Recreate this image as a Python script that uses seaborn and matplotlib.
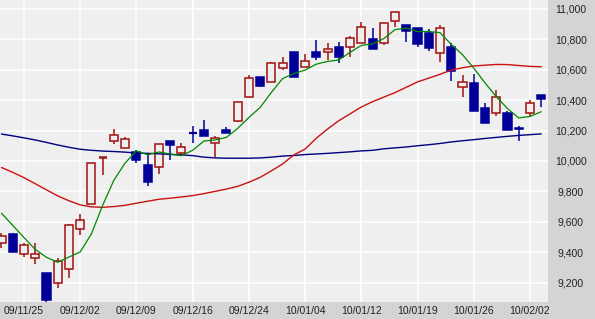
import matplotlib
matplotlib.use("Agg")
import matplotlib.pyplot as plt
import seaborn as sns
import numpy as np
import pandas as pd

# ---- data (Nikkei-style daily candles) ----
opens = [9462, 9520, 9386, 9360, 9261, 9195, 9289, 9555, 9715, 10022,
         10134, 10084, 10061, 9974, 9963, 10132, 10055, 10183, 10204, 10116,
         10204, 10263, 10419, 10551, 10522, 10614, 10715, 10616, 10719, 10715,
         10748, 10752, 10774, 10801, 10778, 10923, 10895, 10873, 10840, 10709,
         10748, 10485, 10511, 10347, 10314, 10314, 10219, 10314, 10434]
highs = [9525, 9525, 9462, 9459, 9261, 9360, 9584, 9651, 9989, 10024,
         10209, 10156, 10072, 10051, 10110, 10132, 10116, 10230, 10270, 10164,
         10222, 10386, 10566, 10551, 10653, 10686, 10715, 10704, 10796, 10774,
         10781, 10822, 10912, 10873, 10910, 10982, 10895, 10873, 10866, 10895,
         10774, 10566, 10572, 10380, 10467, 10331, 10230, 10401, 10434]
lows = [9426, 9399, 9370, 9322, 9074, 9166, 9232, 9513, 9715, 9908,
        10110, 10084, 9989, 9838, 9914, 10007, 10039, 10120, 10166, 10028,
        10186, 10255, 10419, 10489, 10522, 10599, 10551, 10616, 10664, 10664,
        10643, 10682, 10774, 10737, 10760, 10884, 10785, 10752, 10726, 10653,
        10528, 10419, 10331, 10252, 10298, 10204, 10134, 10296, 10357]
closes = [9507, 9403, 9447, 9386, 9086, 9342, 9577, 9612, 9989, 10024,
          10169, 10143, 10007, 9864, 10110, 10105, 10090, 10181, 10166, 10149,
          10186, 10386, 10544, 10495, 10643, 10643, 10551, 10660, 10686, 10735,
          10686, 10807, 10884, 10737, 10910, 10982, 10857, 10768, 10741, 10873,
          10594, 10518, 10331, 10252, 10419, 10204, 10209, 10380, 10408]

ma_short = [9656, 9576, 9496, 9418, 9366, 9333, 9368, 9401, 9521, 9709,
            9874, 9987, 10066, 10041, 10059, 10046, 10035, 10070, 10131, 10138,
            10155, 10214, 10286, 10352, 10451, 10542, 10575, 10598, 10637, 10655,
            10664, 10715, 10760, 10770, 10805, 10864, 10874, 10851, 10852, 10844,
            10767, 10699, 10611, 10514, 10423, 10345, 10283, 10293, 10324]
ma_mid = [9957, 9925, 9890, 9850, 9810, 9770, 9738, 9711, 9698, 9695,
          9700, 9708, 9722, 9735, 9748, 9755, 9763, 9772, 9785, 9800,
          9815, 9833, 9860, 9892, 9935, 9980, 10040, 10078, 10150, 10210,
          10265, 10310, 10355, 10390, 10420, 10450, 10485, 10520, 10545, 10570,
          10598, 10613, 10625, 10630, 10635, 10634, 10628, 10622, 10620]
ma_long = [10177, 10165, 10152, 10138, 10122, 10105, 10090, 10077, 10070, 10065,
           10062, 10058, 10052, 10050, 10047, 10043, 10040, 10035, 10025, 10020,
           10018, 10018, 10018, 10020, 10025, 10032, 10036, 10042, 10046, 10050,
           10055, 10060, 10066, 10070, 10080, 10086, 10092, 10100, 10107, 10115,
           10125, 10133, 10140, 10148, 10155, 10162, 10168, 10173, 10178]

date_ticks = [2, 7, 12, 17, 22, 27, 32, 37, 42, 47]
date_labels = ["09/11/25", "09/12/02", "09/12/09", "09/12/16", "09/12/24",
               "10/01/04", "10/01/12", "10/01/19", "10/01/26", "10/02/02"]
price_ticks = [9200, 9400, 9600, 9800, 10000, 10200, 10400, 10600, 10800, 11000]

# ---- style ----
sns.set_style("white")
plt.rcParams["font.family"] = ["Liberation Sans", "DejaVu Sans"]

PANEL = "#d4d4d4"
BG = "#efefef"
UP = "#a01010"
DOWN = "#000099"

fig = plt.figure(figsize=(5.95, 3.19), dpi=100, facecolor=PANEL)
ax = fig.add_axes([0, 17 / 319, 548 / 595, 302 / 319])
ax.set_facecolor(BG)

n = len(closes)
idx = np.arange(n)
df = pd.DataFrame({"i": idx, "open": opens, "high": highs, "low": lows,
                   "close": closes, "ma5": ma_short, "ma25": ma_mid, "ma75": ma_long})

# grid
for t in price_ticks:
    ax.axhline(t, color="white", lw=1.1, zorder=0)
for t in date_ticks:
    ax.axvline(t, color="white", lw=1.1, zorder=0)

# candles
w = 0.72
for _, r in df.iterrows():
    up = r["close"] >= r["open"]
    col = UP if up else DOWN
    top = max(r["open"], r["close"])
    bot = min(r["open"], r["close"])
    ax.vlines(r["i"], top, r["high"], color=col, lw=1.1, zorder=2)
    ax.vlines(r["i"], r["low"], bot, color=col, lw=1.1, zorder=2)
    h = top - bot
    if h < 8:
        ax.hlines(top if up else (top + bot) / 2, r["i"] - w / 2, r["i"] + w / 2,
                  color=col, lw=1.6 if not up else 1.1, zorder=3)
        if up:
            ax.hlines(bot, r["i"] - w / 2, r["i"] + w / 2, color=col, lw=1.1, zorder=3)
    else:
        ax.bar(r["i"], h, bottom=bot, width=w,
               facecolor=BG if up else DOWN, edgecolor=col, linewidth=1.1, zorder=3)

# moving averages
sns.lineplot(data=df, x="i", y="ma75", ax=ax, color="#000080", lw=1.0, zorder=4)
sns.lineplot(data=df, x="i", y="ma25", ax=ax, color="#cc1111", lw=1.0, zorder=4)
sns.lineplot(data=df, x="i", y="ma5", ax=ax, color="#008800", lw=0.9, zorder=5)

ax.set_xlim(-1.5 / 11.244, 548 / 11.244 - 1.5 / 11.244)
ax.set_ylim(9072, 11059)

for s in ax.spines.values():
    s.set_visible(False)

ax.set_xlabel("")
ax.set_ylabel("")
ax.set_xticks(date_ticks)
ax.set_xticklabels(date_labels, fontsize=7.5, color="#222222")
ax.tick_params(axis="x", length=0, pad=3)

ax.yaxis.tick_right()
ax.set_yticks(price_ticks)
ax.set_yticklabels([f"{v:,}" for v in price_ticks], fontsize=7.5, color="#222222", ha="center")
ax.tick_params(axis="y", length=0, pad=16.5)

fig.savefig("out.png", dpi=100, facecolor=PANEL)
